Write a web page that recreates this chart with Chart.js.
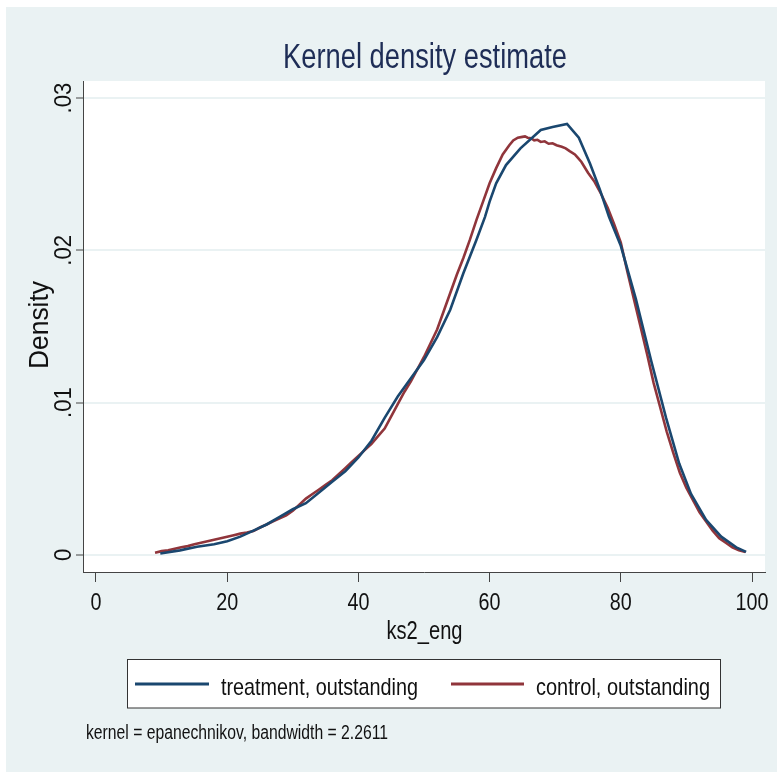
<!DOCTYPE html>
<html>
<head>
<meta charset="utf-8">
<script src="https://cdn.jsdelivr.net/npm/chart.js@4.4.1/dist/chart.umd.min.js"></script>
<style>
html,body{margin:0;padding:0;background:#fff;}
canvas{display:block;}
</style>
</head>
<body>
<canvas id="c" width="777" height="772"></canvas>
<script>
// ---- data ----
const titleText = "Kernel density estimate";
const xAxisTitle = "ks2_eng";
const yAxisTitle = "Density";
const noteText = "kernel = epanechnikov, bandwidth = 2.2611";
const seriesLabels = ["treatment, outstanding", "control, outstanding"];
const xTicks = [0, 20, 40, 60, 80, 100];
const xTickLabels = ["0", "20", "40", "60", "80", "100"];
const yTicks = [0, 0.01, 0.02, 0.03];
const yTickLabels = ["0", ".01", ".02", ".03"];

const treatX = [9.8, 12.8, 15.4, 18, 20, 22, 24, 26, 28, 30, 32, 34, 36, 38, 40, 42, 44, 46, 48, 50, 52, 54, 56, 58, 59.3, 60, 61, 62.5, 64.7, 67.8, 69.6, 71.8, 73.6, 75.3, 76.8, 78.2, 80, 82.3, 84.6, 86.9, 88.9, 90.7, 93, 95.3, 97.6, 99.1];
const treatY = [0.0001, 0.0003, 0.00054, 0.0007, 0.0009, 0.0012, 0.0016, 0.0020, 0.0025, 0.0030, 0.0034, 0.0041, 0.0048, 0.0055, 0.0064, 0.0075, 0.0090, 0.0104, 0.0116, 0.0128, 0.0143, 0.0161, 0.0185, 0.0207, 0.0222, 0.0232, 0.0244, 0.0256, 0.0267, 0.0279, 0.0281, 0.0283, 0.0274, 0.0257, 0.0240, 0.0222, 0.0203, 0.0168, 0.0128, 0.0090, 0.0060, 0.0040, 0.0023, 0.0012, 0.0005, 0.0002];

const ctrlX = [9, 10, 11, 12, 13, 14, 15, 16, 17, 18, 19, 20, 21, 22, 23, 24, 25, 26, 27, 28, 29, 30, 31, 32, 33, 34, 35, 36, 37, 38, 39, 40, 41, 42, 43, 44, 45, 46, 47, 48, 49, 50, 51, 52, 53, 54, 55, 56, 57, 58, 59, 60, 61, 62, 63, 63.6, 64.3, 65, 65.4, 65.8, 66.3, 66.8, 67.3, 67.8, 68.4, 69, 69.6, 70.2, 71, 71.6, 72.2, 73, 73.5, 74, 75, 76, 77, 78, 79, 80, 81, 82, 83, 84, 85, 86, 87, 88, 89, 90, 91, 92, 93, 94, 95, 96, 97, 98, 99];
const ctrlY = [0.00015, 0.00025, 0.0003, 0.0004, 0.0005, 0.00058, 0.0007, 0.0008, 0.0009, 0.0010, 0.0011, 0.0012, 0.0013, 0.0014, 0.00148, 0.00157, 0.0018, 0.0020, 0.0022, 0.0024, 0.0026, 0.0029, 0.0033, 0.0037, 0.0040, 0.0043, 0.0046, 0.0049, 0.0053, 0.0057, 0.0061, 0.0065, 0.0069, 0.0073, 0.0078, 0.0083, 0.0091, 0.0099, 0.0107, 0.0114, 0.0122, 0.0130, 0.0139, 0.0148, 0.0160, 0.0172, 0.0184, 0.0195, 0.0207, 0.0220, 0.0232, 0.0244, 0.0254, 0.0263, 0.0269, 0.02722, 0.0274, 0.02745, 0.02748, 0.0274, 0.02736, 0.02722, 0.02726, 0.02712, 0.02716, 0.02700, 0.02703, 0.02690, 0.02680, 0.02670, 0.02652, 0.02630, 0.02605, 0.02580, 0.0251, 0.0245, 0.0237, 0.0228, 0.0217, 0.0205, 0.0186, 0.0168, 0.0150, 0.0132, 0.0113, 0.0097, 0.0081, 0.0067, 0.0054, 0.0044, 0.0036, 0.0028, 0.0022, 0.0016, 0.0011, 0.0008, 0.0005, 0.0003, 0.0002];

const seriesColors = ["#1A476F", "#90353B"];

// ---- helpers ----
const FONT = '"Liberation Sans", Arial, Helvetica, sans-serif';
function drawText(ctx, s, x, y, size, color, align, opts) {
  opts = opts || {};
  ctx.save();
  ctx.font = size + 'px ' + FONT;
  let sx = opts.sx || 1;
  if (opts.width) sx = opts.width / ctx.measureText(s).width;
  ctx.translate(x, y);
  if (opts.rot) ctx.rotate(opts.rot);
  ctx.scale(sx, 1);
  ctx.fillStyle = color;
  ctx.textAlign = align;
  ctx.textBaseline = 'alphabetic';
  ctx.fillText(s, 0, 0);
  ctx.restore();
}

const decor = {
  id: 'decor',
  beforeDraw(chart) {
    const ctx = chart.ctx, a = chart.chartArea;
    ctx.save();
    ctx.fillStyle = '#ffffff';
    ctx.fillRect(0, 0, chart.width, chart.height);
    ctx.fillStyle = '#EAF2F3';
    ctx.fillRect(6, 7, chart.width - 6, chart.height - 7);
    ctx.fillStyle = '#ffffff';
    ctx.fillRect(a.left, a.top, a.right - a.left, a.bottom - a.top);
    ctx.restore();
  },
  afterDraw(chart) {
    const ctx = chart.ctx, a = chart.chartArea;
    const xs = chart.scales.x, ys = chart.scales.y;
    const cx = (a.left + a.right) / 2;
    // title
    drawText(ctx, titleText, cx + 1, 68, 35, '#1E2D56', 'center', {width: 284});
    // x tick labels
    xTicks.forEach((v, i) => {
      drawText(ctx, xTickLabels[i], xs.getPixelForValue(v), 610, 23.5, '#111', 'center', {sx: 0.84});
    });
    // y tick labels (rotated)
    yTicks.forEach((v, i) => {
      drawText(ctx, yTickLabels[i], 70.5, ys.getPixelForValue(v), 24, '#111', 'center', {rot: -Math.PI / 2, sx: 0.92});
    });
    // axis titles
    drawText(ctx, xAxisTitle, cx + 0.5, 639, 26, '#111', 'center', {width: 76});
    drawText(ctx, yAxisTitle, 47.5, 325, 27, '#111', 'center', {rot: -Math.PI / 2, width: 88});
    // legend box
    ctx.save();
    ctx.fillStyle = '#ffffff';
    ctx.fillRect(127, 659.5, 593.5, 48.5);
    ctx.strokeStyle = '#333';
    ctx.lineWidth = 1;
    ctx.strokeRect(127.5, 659.5, 593, 48.5);
    const ds = chart.data.datasets;
    const legendItems = [
      {x0: 135, x1: 209, tx: 221, w: 197},
      {x0: 451, x1: 524, tx: 536, w: 174}
    ];
    legendItems.forEach((it, i) => {
      ctx.strokeStyle = ds[i].borderColor;
      ctx.lineWidth = 2.8;
      ctx.beginPath();
      ctx.moveTo(it.x0, 684);
      ctx.lineTo(it.x1, 684);
      ctx.stroke();
      drawText(ctx, ds[i].label, it.tx, 695, 24, '#111', 'left', {width: it.w});
    });
    ctx.restore();
    // note
    drawText(ctx, noteText, 86, 739, 19.5, '#111', 'left', {width: 302});
  }
};

new Chart(document.getElementById('c'), {
  type: 'line',
  data: {
    datasets: [
      {label: seriesLabels[0], data: treatX.map((x, i) => ({x: x, y: treatY[i]})), borderColor: seriesColors[0], borderWidth: 2.6, pointRadius: 0, tension: 0, fill: false},
      {label: seriesLabels[1], data: ctrlX.map((x, i) => ({x: x, y: ctrlY[i]})), borderColor: seriesColors[1], borderWidth: 2.6, pointRadius: 0, tension: 0, fill: false}
    ]
  },
  options: {
    responsive: false,
    devicePixelRatio: 1,
    animation: false,
    layout: {padding: {left: 0, top: 81, right: 12, bottom: 0}},
    plugins: {legend: {display: false}, title: {display: false}, tooltip: {enabled: false}},
    scales: {
      x: {
        type: 'linear', min: -1.98, max: 101.98,
        afterBuildTicks: s => { s.ticks = xTicks.map(v => ({value: v})); },
        afterFit: s => { s.height = 200; },
        ticks: {display: false},
        grid: {drawOnChartArea: false, drawTicks: true, tickLength: 10, tickColor: '#444', tickWidth: 1},
        border: {display: true, color: '#444', width: 1}
      },
      y: {
        type: 'linear', min: -0.00112, max: 0.03112,
        afterBuildTicks: s => { s.ticks = yTicks.map(v => ({value: v})); },
        afterFit: s => { s.width = 83; },
        ticks: {display: false},
        grid: {drawOnChartArea: true, color: '#EAF2F3', lineWidth: 2, drawTicks: true, tickLength: 7, tickColor: '#444', tickWidth: 1},
        border: {display: true, color: '#444', width: 1}
      }
    }
  },
  plugins: [decor]
});
</script>
</body>
</html>
